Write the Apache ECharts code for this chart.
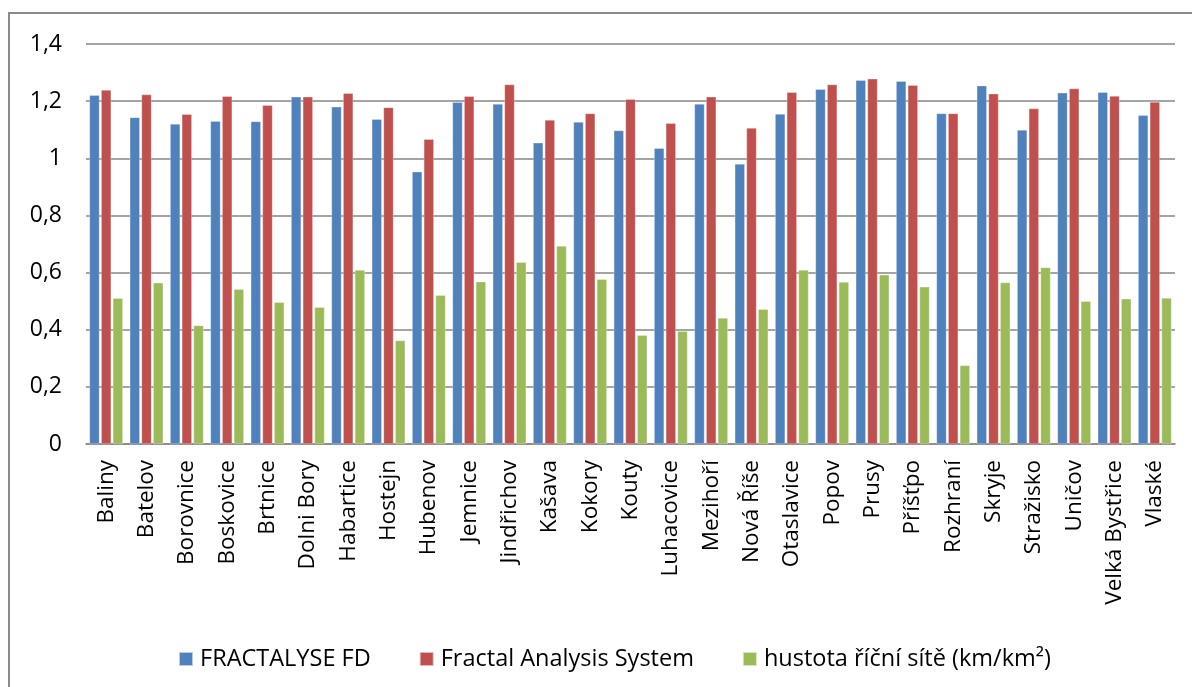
<!DOCTYPE html>
<html>
<head>
<meta charset="utf-8">
<script src="https://cdn.jsdelivr.net/npm/echarts@6/dist/echarts.min.js"></script>
<style>
html,body{margin:0;padding:0;background:#fff;}
#chart{width:1192px;height:687px;}
</style>
</head>
<body>
<div id="chart"></div>
<script>
var categories = ['Baliny','Batelov','Borovnice','Boskovice','Brtnice','Dolni Bory','Habartice','Hostejn','Hubenov','Jemnice','Jindřichov','Kašava','Kokory','Kouty','Luhacovice','Mezihoří','Nová Říše','Otaslavice','Popov','Prusy','Příšťpo','Rozhraní','Skryje','Stražisko','Uničov','Velká Bystřice','Vlaské'];
var fractalyse = [1.221,1.143,1.120,1.130,1.129,1.215,1.180,1.137,0.953,1.196,1.190,1.054,1.127,1.097,1.035,1.190,0.980,1.155,1.242,1.273,1.270,1.157,1.254,1.099,1.229,1.231,1.151];
var fas = [1.239,1.223,1.154,1.217,1.186,1.215,1.228,1.178,1.067,1.217,1.258,1.134,1.157,1.207,1.123,1.215,1.106,1.231,1.258,1.278,1.256,1.157,1.226,1.174,1.244,1.218,1.197];
var hustota = [0.510,0.564,0.415,0.542,0.496,0.479,0.609,0.362,0.521,0.568,0.636,0.693,0.577,0.381,0.395,0.441,0.472,0.609,0.567,0.592,0.550,0.275,0.565,0.618,0.500,0.508,0.511];
var seriesNames = ['FRACTALYSE FD','Fractal Analysis System','hustota říční sítě (km/km²)'];
var yTickLabels = ['0','0,2','0,4','0,6','0,8','1','1,2','1,4'];

var colors = ['#4F81BD','#C0504D','#9BBB59'];
var chart = echarts.init(document.getElementById('chart'), null, {renderer:'canvas'});
var font = '"Open Sans", sans-serif';
function mk(name, data, color){
  return {name:name, type:'bar', data:data, barWidth:10, barGap:'17%',
    itemStyle:{color:color, borderColor:'rgba(255,255,255,0.6)', borderWidth:0.5}, animation:false};
}
chart.setOption({
  animation:false,
  color:colors,
  graphic:[{type:'rect', shape:{x:9, y:13, width:1200, height:700}, style:{fill:'none', stroke:'#8a8a8a', lineWidth:2}, silent:true, z:-1}],
  grid:{left:86, right:17, top:44, bottom:243, containLabel:false},
  legend:{
    data:seriesNames, left:173, top:642, itemWidth:14, itemHeight:14, itemGap:48,
    icon:'rect', textStyle:{fontFamily:font, fontSize:23.5, color:'#000', padding:[0,0,0,2]}
  },
  xAxis:{
    type:'category', data:categories,
    axisLine:{lineStyle:{color:'#868686', width:1.5}},
    axisTick:{show:false},
    axisLabel:{rotate:90, interval:0, margin:16, fontFamily:font, fontSize:22.5, color:'#000'}
  },
  yAxis:{
    type:'value', min:0, max:1.4, interval:0.2,
    axisLine:{show:false}, axisTick:{show:false},
    splitLine:{lineStyle:{color:'#868686', width:1.5}},
    axisLabel:{margin:24, fontFamily:font, fontSize:23, color:'#000',
      formatter:function(v){return yTickLabels[Math.round(v/0.2)];}}
  },
  series:[mk(seriesNames[0], fractalyse, colors[0]), mk(seriesNames[1], fas, colors[1]), mk(seriesNames[2], hustota, colors[2])]
});
</script>
</body>
</html>
